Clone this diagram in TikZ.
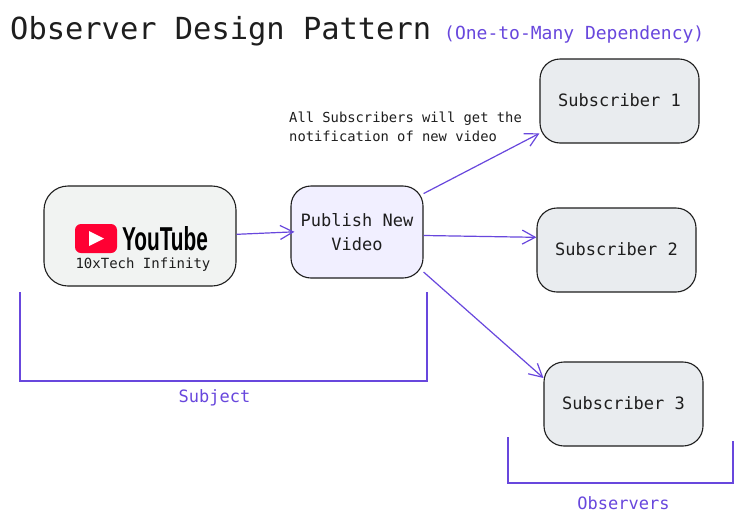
\documentclass[tikz,border=0pt]{standalone}
\usepackage{fontspec}
\usepackage{graphicx}
\setmainfont{DejaVu Sans Mono}
\newfontfamily\logofont{Liberation Sans}
\usetikzlibrary{arrows.meta}
\definecolor{vio}{HTML}{6847DD}
\definecolor{ink}{HTML}{1E1E1E}
\definecolor{subfill}{HTML}{E9ECEF}
\definecolor{ytfill}{HTML}{F1F3F2}
\definecolor{pubfill}{HTML}{F1EFFF}
\definecolor{ytred}{HTML}{FF0033}
\tikzset{
  boxbase/.style={draw=ink,line width=1.1pt,rounded corners=20pt,inner sep=0pt,text=ink,align=center,font=\fontsize{17}{24}\selectfont},
  subbox/.style={boxbase,fill=subfill,minimum width=159pt,minimum height=84pt},
  conn/.style={draw=vio,line width=1.2pt,-{Straight Barb[length=13pt,width=14pt,line width=1.2pt]}},
  bracket/.style={draw=vio,line width=1.25pt},
  purpletext/.style={text=vio,inner sep=0pt,font=\fontsize{17}{20}\selectfont},
  inktext/.style={text=ink,inner sep=0pt}
}
\begin{document}
\begin{tikzpicture}[x=1pt,y=-1pt]
\useasboundingbox (0,0) rectangle (743,525);
\fill[white] (0,0) rectangle (743,525);
\node[inktext,anchor=west,font=\fontsize{30.4}{34}\selectfont] (title) at (10,31) {Observer Design Pattern};
\node[purpletext,anchor=west,font=\fontsize{18}{20}\selectfont] (subtitle) at (444,35) {(One-to-Many Dependency)};
\node[inktext,anchor=north west,align=left,font=\fontsize{13.8}{19}\selectfont] (note) at (289,111.5) {All Subscribers will get the\\notification of new video};
\node[boxbase,rounded corners=24pt,fill=ytfill,minimum width=192pt,minimum height=100pt] (yt) at (140,236) {};
\node[boxbase,fill=pubfill,minimum width=132pt,minimum height=92pt] (pub) at (357,232) {Publish New\\Video};
\node[subbox] (s1) at (619.5,101) {\raisebox{1pt}{Subscriber 1}};
\node[subbox] (s2) at (616.5,250) {\raisebox{1pt}{Subscriber 2}};
\node[subbox] (s3) at (623.5,404) {\raisebox{1pt}{Subscriber 3}};
\node[inktext,font=\fontsize{14}{16}\selectfont] (ytname) at (143,265) {10xTech Infinity};
\node[fill=ytred,rounded corners=6pt,minimum width=42pt,minimum height=29pt,inner sep=0pt] (ytlogo) at (96,238.5) {};
\fill[white] (89,231) -- (104,238.5) -- (89,246) -- cycle;
\node[inner sep=0pt,text=black] (ytword) at (165,238.5) {\resizebox{86pt}{24pt}{\logofont\bfseries YouTube}};
\draw[conn,shorten >=-4pt] (yt.1) -- (pub.west);
\draw[conn] (pub.30) -- (s1.202);
\draw[conn] (pub.-3.5) -- (s2.171.4);
\draw[conn] (pub.-31) -- (s3.162);
\coordinate (a1) at (20,292);\coordinate (a2) at (20,381);\coordinate (a3) at (427,381);\coordinate (a4) at (427,292);
\draw[bracket] (a1) -- (a2) -- (a3) -- (a4);
\coordinate (b1) at (508,437);\coordinate (b2) at (508,483);\coordinate (b3) at (733,483);\coordinate (b4) at (733,441);
\draw[bracket] (b1) -- (b2) -- (b3) -- (b4);
\node[purpletext] (subject) at (214.5,398) {Subject};
\node[purpletext] (observers) at (623.5,503) {Observers};
\end{tikzpicture}
\end{document}
